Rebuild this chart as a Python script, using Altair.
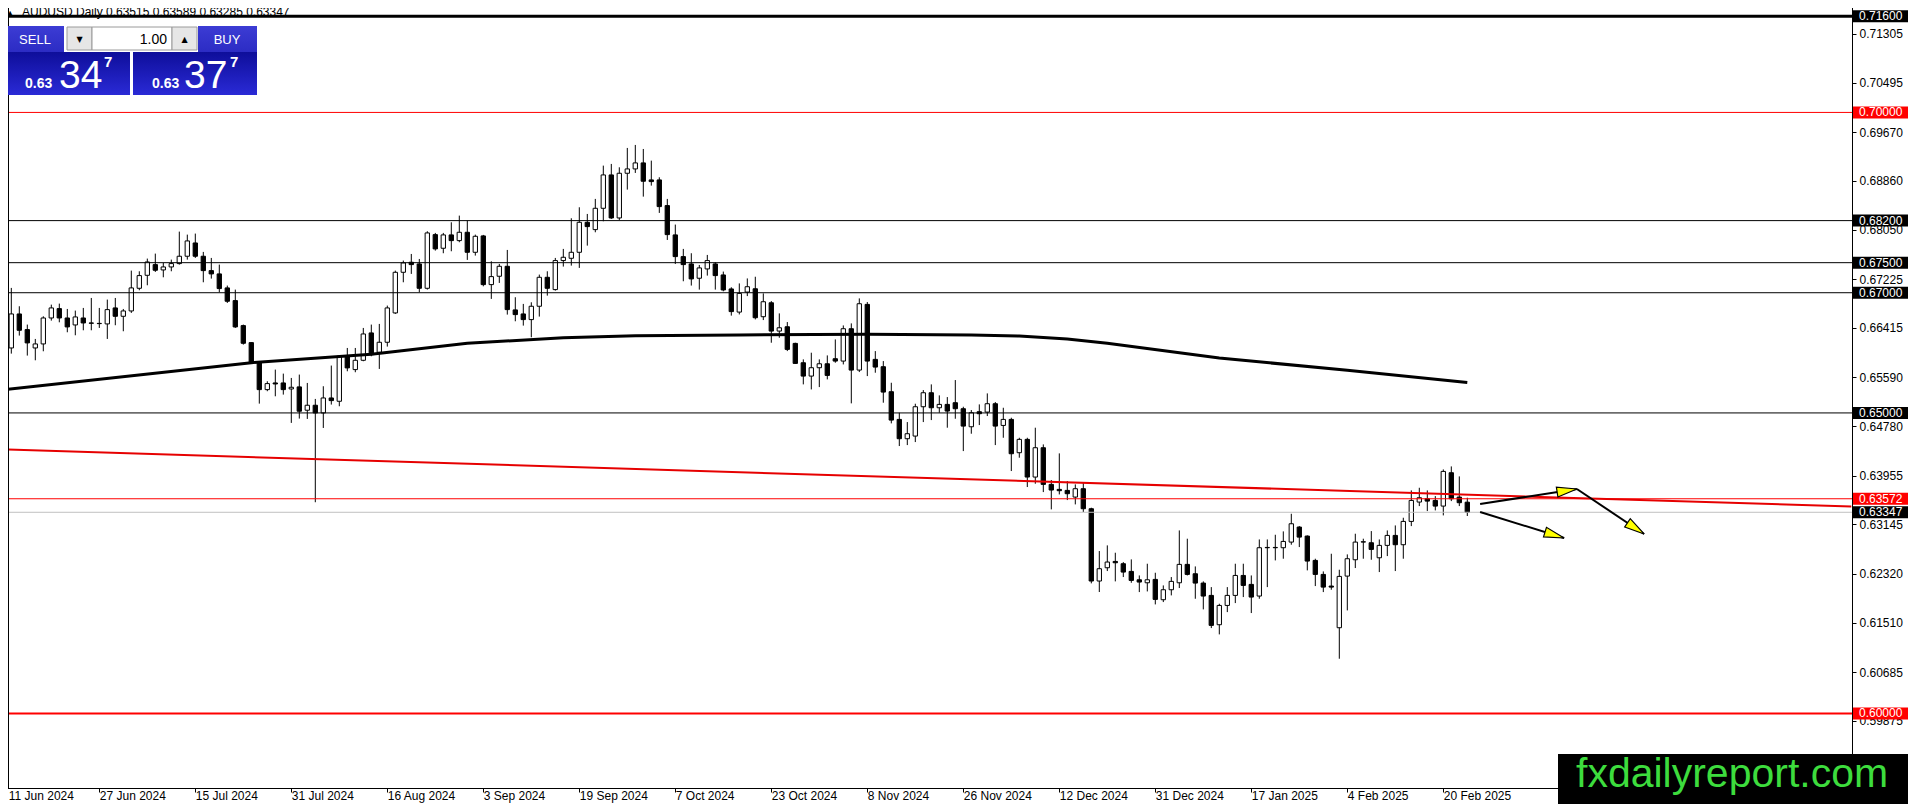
import math
import altair as alt
import pandas as pd

# ---------------- data (AUDUSD Daily) ----------------
OPEN = [
0.66137, 0.66081, 0.66647, 0.66387, 0.66081, 0.66148, 0.66580, 0.66736, 0.66580, 0.66464,
0.66580, 0.66497, 0.66486, 0.66481, 0.66747, 0.66608, 0.66697, 0.67074, 0.67290, 0.67468,
0.67379, 0.67429, 0.67485, 0.67607, 0.67828, 0.67607, 0.67368, 0.67313, 0.67080, 0.66869,
0.66453, 0.66170, 0.65843, 0.65388, 0.65499, 0.65499, 0.65399, 0.65433, 0.65045, 0.65128,
0.65000, 0.65249, 0.65194, 0.65943, 0.65721, 0.65876, 0.66331, 0.66009, 0.66176, 0.66664,
0.67340, 0.67507, 0.67479, 0.67074, 0.67967, 0.67740, 0.67962, 0.67867, 0.68006, 0.67673,
0.67945, 0.67135, 0.67274, 0.67440, 0.66714, 0.66647, 0.66553, 0.66775, 0.67257, 0.67052,
0.67535, 0.67573, 0.67673, 0.68172, 0.68050, 0.68405, 0.68960, 0.68244, 0.68988, 0.69060,
0.69160, 0.68877, 0.68877, 0.68450, 0.67962, 0.67601, 0.67479, 0.67241, 0.67396, 0.67479,
0.67296, 0.67063, 0.66678, 0.67011, 0.67066, 0.66601, 0.66833, 0.66362, 0.66434, 0.66157,
0.65835, 0.65613, 0.65752, 0.65818, 0.65902, 0.65863, 0.66401, 0.65713, 0.66806, 0.65891,
0.65769, 0.65353, 0.64892, 0.64571, 0.64615, 0.65103, 0.65336, 0.65086, 0.65142, 0.65170,
0.65070, 0.64770, 0.65020, 0.65014, 0.65153, 0.64792, 0.64892, 0.64338, 0.64560, 0.63933,
0.64421, 0.63811, 0.63728, 0.63711, 0.63600, 0.63739, 0.63406, 0.62203, 0.62424, 0.62529,
0.62491, 0.62363, 0.62224, 0.62174, 0.62230, 0.61892, 0.62058, 0.62174, 0.62480, 0.62324,
0.62169, 0.61964, 0.61476, 0.61797, 0.61964, 0.62296, 0.62147, 0.61953, 0.62757, 0.62757,
0.62757, 0.62851, 0.63101, 0.62951, 0.62546, 0.62313, 0.62119, 0.61426, 0.62285, 0.62557,
0.62851, 0.62840, 0.62590, 0.62796, 0.62962, 0.62807, 0.63195, 0.63517, 0.63572, 0.63544,
0.63450, 0.64005, 0.63600, 0.63515]

HIGH = [
0.66176, 0.67080, 0.66775, 0.66470, 0.66231, 0.66608, 0.66802, 0.66819, 0.66730, 0.66703,
0.66747, 0.66913, 0.66747, 0.66886, 0.66913, 0.66730, 0.67368, 0.67357, 0.67568, 0.67651,
0.67496, 0.67551, 0.68017, 0.67967, 0.67984, 0.67679, 0.67579, 0.67468, 0.67119, 0.67052,
0.66470, 0.66176, 0.65860, 0.65527, 0.65721, 0.65654, 0.65582, 0.65638, 0.65499, 0.65233,
0.65444, 0.65788, 0.65954, 0.66081, 0.66081, 0.66414, 0.66470, 0.66481, 0.66786, 0.67368,
0.67535, 0.67645, 0.67562, 0.68023, 0.67995, 0.67995, 0.68172, 0.68283, 0.68200, 0.67967,
0.67962, 0.67523, 0.67479, 0.67712, 0.66925, 0.66814, 0.66841, 0.67302, 0.67357, 0.67579,
0.67729, 0.68239, 0.68422, 0.68311, 0.68561, 0.69115, 0.69143, 0.69087, 0.69409, 0.69459,
0.69392, 0.69198, 0.68921, 0.68561, 0.68134, 0.67729, 0.67657, 0.67462, 0.67629, 0.67507,
0.67352, 0.67091, 0.67155, 0.67238, 0.67266, 0.66989, 0.66861, 0.66656, 0.66512, 0.66168,
0.65891, 0.66002, 0.65891, 0.65957, 0.66223, 0.66456, 0.66490, 0.66906, 0.66845, 0.66029,
0.65863, 0.65502, 0.65003, 0.64848, 0.65153, 0.65380, 0.65475, 0.65292, 0.65264, 0.65547,
0.65103, 0.65048, 0.65142, 0.65325, 0.65181, 0.65086, 0.64920, 0.64587, 0.64587, 0.64754,
0.64476, 0.63883, 0.64327, 0.63866, 0.63811, 0.63839, 0.63423, 0.62702, 0.62796, 0.62674,
0.62518, 0.62563, 0.62296, 0.62491, 0.62341, 0.62130, 0.62269, 0.63045, 0.62907, 0.62446,
0.62197, 0.62102, 0.61825, 0.62102, 0.62491, 0.62491, 0.62296, 0.62895, 0.62895, 0.62973,
0.63029, 0.63322, 0.63117, 0.62962, 0.62574, 0.62363, 0.62657, 0.62391, 0.62646, 0.62990,
0.62907, 0.63034, 0.62895, 0.63045, 0.63128, 0.63256, 0.63711, 0.63755, 0.63711, 0.63616,
0.64060, 0.64110, 0.63944, 0.63589]

LOW = [
0.65915, 0.65987, 0.66287, 0.65954, 0.65876, 0.66026, 0.66536, 0.66508, 0.66342, 0.66292,
0.66375, 0.66375, 0.66414, 0.66231, 0.66459, 0.66359, 0.66664, 0.67041, 0.67124, 0.67346,
0.67257, 0.67357, 0.67468, 0.67551, 0.67579, 0.67174, 0.67235, 0.67008, 0.66830, 0.66414,
0.66137, 0.65821, 0.65155, 0.65361, 0.65277, 0.65305, 0.64834, 0.64906, 0.64900, 0.63514,
0.64750, 0.65139, 0.65111, 0.65693, 0.65677, 0.65860, 0.65943, 0.65732, 0.66104, 0.66647,
0.67174, 0.67313, 0.67008, 0.67052, 0.67701, 0.67657, 0.67690, 0.67840, 0.67546, 0.67618,
0.67107, 0.66897, 0.67163, 0.66636, 0.66525, 0.66453, 0.66259, 0.66603, 0.66952, 0.67035,
0.67435, 0.67451, 0.67413, 0.67784, 0.68006, 0.68189, 0.68228, 0.68211, 0.68716, 0.68993,
0.68599, 0.68782, 0.68328, 0.67878, 0.67479, 0.67191, 0.67119, 0.67052, 0.67285, 0.67052,
0.67024, 0.66619, 0.66639, 0.66944, 0.66556, 0.66545, 0.66168, 0.66251, 0.66029, 0.65818,
0.65475, 0.65391, 0.65430, 0.65558, 0.65835, 0.65807, 0.65159, 0.65680, 0.65613, 0.65669,
0.65170, 0.64826, 0.64449, 0.64465, 0.64515, 0.64848, 0.64881, 0.65003, 0.64754, 0.64903,
0.64365, 0.64654, 0.64798, 0.64948, 0.64465, 0.64587, 0.64033, 0.64255, 0.63767, 0.63822,
0.63683, 0.63395, 0.63644, 0.63550, 0.63478, 0.63351, 0.62164, 0.62020, 0.62369, 0.62197,
0.62269, 0.62174, 0.62019, 0.62030, 0.61814, 0.61853, 0.61964, 0.62086, 0.62296, 0.61908,
0.61731, 0.61420, 0.61315, 0.61686, 0.61836, 0.61936, 0.61670, 0.61908, 0.62102, 0.62546,
0.62574, 0.62807, 0.62768, 0.62380, 0.62119, 0.62019, 0.62058, 0.60910, 0.61714, 0.62419,
0.62574, 0.62557, 0.62352, 0.62618, 0.62369, 0.62574, 0.63117, 0.63450, 0.63367, 0.63378,
0.63295, 0.63533, 0.63450, 0.63285]

CLOSE = [
0.66065, 0.66647, 0.66375, 0.66165, 0.66148, 0.66580, 0.66747, 0.66580, 0.66431, 0.66597,
0.66497, 0.66492, 0.66490, 0.66719, 0.66608, 0.66697, 0.67080, 0.67285, 0.67512, 0.67374,
0.67429, 0.67485, 0.67607, 0.67862, 0.67607, 0.67368, 0.67313, 0.67069, 0.66858, 0.66431,
0.66159, 0.65843, 0.65388, 0.65488, 0.65482, 0.65388, 0.65427, 0.65028, 0.65128, 0.65000,
0.65249, 0.65205, 0.65943, 0.65749, 0.65876, 0.66314, 0.65970, 0.66176, 0.66747, 0.67340,
0.67496, 0.67468, 0.67074, 0.67995, 0.67729, 0.67962, 0.67867, 0.68006, 0.67673, 0.67939,
0.67135, 0.67268, 0.67440, 0.66719, 0.66636, 0.66553, 0.66775, 0.67257, 0.67074, 0.67535,
0.67590, 0.67673, 0.68172, 0.68100, 0.68405, 0.68960, 0.68244, 0.68988, 0.69060, 0.69160,
0.68855, 0.68849, 0.68433, 0.67967, 0.67601, 0.67468, 0.67230, 0.67413, 0.67535, 0.67285,
0.67046, 0.66686, 0.66989, 0.67100, 0.66584, 0.66850, 0.66362, 0.66417, 0.66057, 0.65824,
0.65613, 0.65752, 0.65818, 0.65624, 0.65863, 0.66401, 0.65713, 0.66817, 0.65863, 0.65763,
0.65347, 0.64881, 0.64571, 0.64654, 0.65103, 0.65336, 0.65086, 0.65142, 0.65031, 0.65070,
0.64781, 0.65003, 0.64987, 0.65153, 0.64781, 0.64892, 0.64321, 0.64560, 0.63933, 0.64421,
0.63811, 0.63717, 0.63706, 0.63656, 0.63739, 0.63406, 0.62203, 0.62408, 0.62519, 0.62507,
0.62352, 0.62213, 0.62186, 0.62224, 0.61897, 0.62058, 0.62197, 0.62480, 0.62313, 0.62169,
0.61953, 0.61465, 0.61797, 0.61964, 0.62296, 0.62130, 0.61936, 0.62757, 0.62762, 0.62762,
0.62862, 0.63156, 0.62934, 0.62535, 0.62313, 0.62102, 0.62102, 0.62280, 0.62574, 0.62851,
0.62857, 0.62729, 0.62796, 0.62962, 0.62807, 0.63195, 0.63544, 0.63589, 0.63533, 0.63450,
0.64027, 0.63572, 0.63506, 0.63347]

DATE_LABELS = ["11 Jun 2024", "27 Jun 2024", "15 Jul 2024", "31 Jul 2024", "16 Aug 2024",
               "3 Sep 2024", "19 Sep 2024", "7 Oct 2024", "23 Oct 2024", "8 Nov 2024",
               "26 Nov 2024", "12 Dec 2024", "31 Dec 2024", "17 Jan 2025", "4 Feb 2025",
               "20 Feb 2025"]
DATE_LABEL_BARS = [0, 12, 24, 36, 48, 60, 72, 84, 96, 108, 120, 132, 144, 156, 168, 180]

PRICE_TICKS = [0.71305, 0.70495, 0.69670, 0.68860, 0.68050, 0.67225, 0.66415, 0.65590,
               0.64780, 0.63955, 0.63145, 0.62320, 0.61510, 0.60685, 0.59875]

# thick moving average, read at a few bars
MA_BARS = [0, 31, 46, 58, 70, 79, 92, 108, 121, 127, 133, 138, 152, 168, 183]
MA_VALUES = [0.65385, 0.65836, 0.65976, 0.66159, 0.66252, 0.66285, 0.66297, 0.66308,
             0.66297, 0.66280, 0.66230, 0.66158, 0.65914, 0.65709, 0.65506]

# red descending trend line
TREND_BARS = [0, 231]
TREND_PRICES = [0.64392, 0.63443]

# horizontal levels
TOP_LEVEL = [0.716]
BLACK_LEVELS = [0.682, 0.675, 0.670, 0.650]
RED_LEVELS = [0.700, 0.63572]
FLOOR_LEVEL = [0.600]
BID = CLOSE[-1]
ASK = 0.63377

BLACK_TAGS = [0.716, 0.682, 0.675, 0.670, 0.650, BID]
RED_TAGS = [0.700, 0.63572, 0.600]

# scenario arrows
ARROW_FROM_BAR = [184.6, 196.7, 184.6]
ARROW_FROM_PRICE = [0.63485, 0.63734, 0.63352]
ARROW_TO_BAR = [196.7, 205.1, 195.1]
ARROW_TO_PRICE = [0.63734, 0.62986, 0.62919]

# ---------------- layout ----------------
PLOT_W, PLOT_H = 1850, 785
X_DOMAIN = [-0.1625, 231.0875]
Y_DOMAIN = [0.587592, 0.718208]
PX_PER_BAR = PLOT_W / (X_DOMAIN[1] - X_DOMAIN[0])
PX_PER_PRICE = PLOT_H / (Y_DOMAIN[1] - Y_DOMAIN[0])
FONT = "Liberation Sans, Arial, sans-serif"

XS = alt.Scale(domain=X_DOMAIN, nice=False, zero=False)
YS = alt.Scale(domain=Y_DOMAIN, nice=False, zero=False)

labels_js = "[" + ",".join("'%s'" % s for s in DATE_LABELS) + "]"
X_AXIS = alt.Axis(
    values=DATE_LABEL_BARS, labelExpr=labels_js + "[round(datum.value / 12)]",
    orient="bottom", title=None, grid=False, domainColor="black", domainWidth=1,
    tickColor="black", tickSize=4, tickWidth=1, labelAlign="left",
    labelBaseline="alphabetic", labelPadding=7, labelFontSize=12, labelFont=FONT,
    labelColor="black", labelFlush=False, labelOverlap=False,
    labelOffset={"condition": {"test": "datum.value == 0", "value": 5}, "value": 0})
Y_AXIS = alt.Axis(
    orient="right", values=PRICE_TICKS, format=".5f", title=None, grid=False,
    domainColor="black", domainWidth=1, tickColor="black", tickSize=4, tickWidth=1,
    labelPadding=3, labelFontSize=12, labelFont=FONT, labelColor="black",
    labelBaseline="middle", labelOverlap=False, labelFlush=False)


def X(field):
    return alt.X(field, scale=XS, axis=X_AXIS)


def Y(field):
    return alt.Y(field, scale=YS, axis=Y_AXIS)


candles = pd.DataFrame({"bar": list(range(len(OPEN))), "open": OPEN, "high": HIGH,
                        "low": LOW, "close": CLOSE})

wicks = alt.Chart(candles).mark_rule(color="black", strokeWidth=1).encode(
    x=X("bar:Q"), y=Y("low:Q"), y2="high:Q")

bodies = alt.Chart(candles).transform_calculate(
    bl="datum.bar - 0.27", br="datum.bar + 0.27"
).mark_rect(stroke="black", strokeWidth=1).encode(
    x=X("bl:Q"), x2="br:Q", y=Y("open:Q"), y2="close:Q",
    fill=alt.condition("datum.close > datum.open", alt.value("white"), alt.value("black")))

ma = alt.Chart(pd.DataFrame({"bar": MA_BARS, "v": MA_VALUES})).mark_line(
    color="black", strokeWidth=3).encode(x=X("bar:Q"), y=Y("v:Q"))

trend = alt.Chart(pd.DataFrame({"bar": TREND_BARS, "p": TREND_PRICES})).mark_line(
    color="#e60000", strokeWidth=2).encode(x=X("bar:Q"), y=Y("p:Q"))


def hlines(values, color, width):
    return alt.Chart(pd.DataFrame({"p": values})).mark_rule(
        color=color, strokeWidth=width).encode(y=Y("p:Q"))


levels = [
    hlines(TOP_LEVEL, "black", 3),
    hlines(BLACK_LEVELS, "black", 1),
    hlines(RED_LEVELS, "#ff0000", 1),
    hlines(FLOOR_LEVEL, "#ff0000", 2),
    hlines([BID], "#c0c0c0", 1),
]

arrows = pd.DataFrame({"x0": ARROW_FROM_BAR, "y0": ARROW_FROM_PRICE,
                       "x1": ARROW_TO_BAR, "y1": ARROW_TO_PRICE})
arrows["ang"] = [
    math.degrees(math.atan2(-(p1 - p0) * PX_PER_PRICE, (b1 - b0) * PX_PER_BAR)) % 360
    for b0, p0, b1, p1 in zip(ARROW_FROM_BAR, ARROW_FROM_PRICE, ARROW_TO_BAR, ARROW_TO_PRICE)]

arrow_lines = alt.Chart(arrows).mark_rule(color="black", strokeWidth=2).encode(
    x=X("x0:Q"), x2="x1:Q", y=Y("y0:Q"), y2="y1:Q")
arrow_heads = alt.Chart(arrows).mark_point(
    shape="M0,0L-2,-0.5L-2,0.5Z", size=400, filled=True, fill="#ffff00",
    stroke="black", strokeWidth=1.2, opacity=1).encode(
    x=X("x1:Q"), y=Y("y1:Q"), angle=alt.Angle("ang:Q", scale=None))


def tags(values, fill):
    df = pd.DataFrame({"p": values, "t": ["%.5f" % v for v in values]})
    base = alt.Chart(df).transform_calculate(lo="datum.p - 0.001", hi="datum.p + 0.001")
    box = base.mark_rect(fill=fill).encode(
        x=alt.value(1851), x2=alt.value(1912), y=Y("lo:Q"), y2="hi:Q")
    txt = alt.Chart(df).mark_text(align="left", baseline="middle", color="white",
                                  fontSize=12, font=FONT).encode(
        x=alt.value(1857), y=Y("p:Q"), text="t:N")
    return [box, txt]


ONE = pd.DataFrame({"k": [0]})


def box(x1, y1, x2, y2, **mark):
    return alt.Chart(ONE).mark_rect(**mark).encode(
        x=alt.value(x1), x2=alt.value(x2), y=alt.value(y1), y2=alt.value(y2))


def label(x, y, text, **mark):
    mark.setdefault("align", "left")
    mark.setdefault("baseline", "alphabetic")
    mark.setdefault("font", FONT)
    return alt.Chart(ONE).mark_text(**mark).encode(
        x=alt.value(x), y=alt.value(y), text=alt.value(text))


BTN = {"gradient": "linear", "x1": 0, "x2": 0, "y1": 0, "y2": 1,
       "stops": [{"offset": 0, "color": "#3c3cd4"}, {"offset": 1, "color": "#2c2cc4"}]}
PRICE_BG = {"gradient": "linear", "x1": 0, "x2": 0, "y1": 0, "y2": 1,
            "stops": [{"offset": 0, "color": "#0e0e9a"}, {"offset": 1, "color": "#2a2ad6"}]}

bid_s, ask_s = "%.5f" % BID, "%.5f" % ASK
panel = [
    box(1, 23, 62, 49, fill=BTN),
    label(33, 41, "SELL", align="center", color="white", fontSize=13),
    box(65, 24, 90, 47, fill="#e6e6e6", stroke="#9a9a9a", strokeWidth=1),
    label(77.5, 39, "\u25bc", align="center", fontSize=8, color="black", font="DejaVu Sans"),
    box(90, 24, 170, 47, fill="white", stroke="#9a9a9a", strokeWidth=1),
    label(165, 41, "1.00", align="right", fontSize=14, color="black"),
    box(170, 24, 195, 47, fill="#e6e6e6", stroke="#9a9a9a", strokeWidth=1),
    label(182.5, 39, "\u25b2", align="center", fontSize=8, color="black", font="DejaVu Sans"),
    box(196, 23, 255, 49, fill=BTN),
    label(225, 41, "BUY", align="center", color="white", fontSize=13),
    box(1, 49, 128, 92, fill=PRICE_BG),
    box(131, 49, 255, 92, fill=PRICE_BG),
    label(23, 85, bid_s[:4], color="white", fontSize=14, fontWeight="bold"),
    label(57, 85, bid_s[4:6], color="white", fontSize=39),
    label(102, 64, bid_s[6], color="white", fontSize=15, fontWeight="bold"),
    label(150, 85, ask_s[:4], color="white", fontSize=14, fontWeight="bold"),
    label(182, 85, ask_s[4:6], color="white", fontSize=39),
    label(228, 64, ask_s[6], color="white", fontSize=15, fontWeight="bold"),
]

title = [
    label(5, 13, "\u25b2", fontSize=8, color="black", font="DejaVu Sans"),
    label(20, 13, "AUDUSD Daily  %.5f %.5f %.5f %.5f" % (OPEN[-1], HIGH[-1], LOW[-1], CLOSE[-1]),
          fontSize=12, color="black"),
]

frame = alt.Chart(ONE).mark_rule(color="black", strokeWidth=1).encode(
    x=alt.value(6.5), y=alt.value(0), y2=alt.value(PLOT_H))

watermark = [
    box(1556, 751, 1920, 812, fill="black"),
    label(1574, 784, "fxdailyreport.com", fontSize=41, color="#3ddc3d"),
]

layers = ([wicks, bodies, ma] + levels + [trend, arrow_lines, arrow_heads]
          + tags(BLACK_TAGS, "black") + tags(RED_TAGS, "#ff0000")
          + [frame] + title + panel + watermark)

chart = alt.layer(*layers).properties(
    width=PLOT_W, height=PLOT_H,
    padding={"left": -6, "top": -5, "right": 56, "bottom": 16},
    autosize=alt.AutoSizeParams(type="none"),
    background="white",
).configure_view(stroke=None)

chart.save("out.html", embed_options={"renderer": "svg", "actions": False})
